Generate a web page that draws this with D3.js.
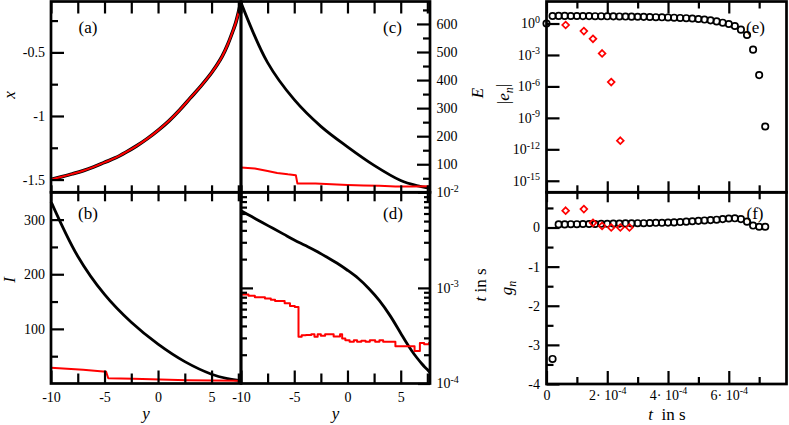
<!DOCTYPE html>
<meta charset="utf-8">
<style>
  body { margin: 0; background: #fff; }
  svg, svg text { font-family: "Liberation Serif", "Times New Roman", Times, "DejaVu Serif", serif; }
</style>
<body>
<script src="https://d3js.org/d3.v7.min.js"></script>
<div id="chart"></div>
<script>
// ---- data ----
// panel (a): trajectory x(y), black and red lie on top of each other
var yGridA = [-10,-9,-8,-7,-6,-5,-4,-3,-2,-1,0,1,2,3,4,5,5.5,6,6.5,7,7.25,7.5,7.75];
var xTrajBlack = [-1.50,-1.478,-1.455,-1.43,-1.40,-1.365,-1.33,-1.285,-1.235,-1.178,-1.113,-1.04,-0.955,-0.86,-0.765,-0.66,-0.6,-0.53,-0.44,-0.33,-0.27,-0.19,-0.1];
var xTrajRed   = [-1.50,-1.478,-1.455,-1.43,-1.40,-1.365,-1.33,-1.285,-1.235,-1.178,-1.113,-1.04,-0.955,-0.86,-0.765,-0.66,-0.6,-0.53,-0.44,-0.33,-0.27,-0.19,-0.1];
// panels (b),(c): coarse samples of the smooth black curves
var yGridBC = [-10,-7.5,-5,-2.5,0,2.5,5,6.5,7.75];
var actionBlack = [333,233,163,112,72,40,17,9,5];
var energyBlack = [676,462,330,235,162,96,42,24,15];
// panel (d): black curve
var yGridD = [-10,-9,-8,-7,-6,-5,-4,-3,-2,-1,0,1,2,3,4,5,5.5,6,6.5,7,7.25,7.5,7.75];
var timeBlack = [6.42e-3,5.57e-3,4.83e-3,4.2e-3,3.65e-3,3.17e-3,2.79e-3,2.45e-3,2.12e-3,1.82e-3,1.53e-3,1.26e-3,9.86e-4,7.35e-4,5.13e-4,3.36e-4,2.72e-4,2.23e-4,1.87e-4,1.6e-4,1.49e-4,1.4e-4,1.3e-4];

// red curves (own y samples)
var actionRedY = [-10,-8.5,-7,-5.4,-4.85,-4.65,-2.3,0.2,2.7,5.2,7.75];
var actionRed  = [28.7,26.9,25,22.5,21.4,9.7,8.6,7.3,6,5.5,4.9];
var energyRedY = [-10,-8.7,-7.5,-6.6,-5.6,-4.85,-4.7,-3,-1.5,0,1.5,3,4.5,6,7.75];
var energyRed  = [88,85,76,69,64,61,31,31,29,26,24,23,21,21,22];
var timeRedY = [-10,-9.3,-8.7,-7.75,-7.2,-6.8,-5.9,-5.4,-4.95,-4.6,-4.3,-3.9,-3.4,-3.1,-2.8,-2.5,-2.1,-1.7,-1.3,-0.9,-0.7,-0.5,-0.2,0.2,0.6,0.9,1.3,1.7,2.1,2.6,3.0,3.35,4.5,6.3,6.7,6.8,7.2,7.65,7.75];
var timeRed  = [8.55e-4,8.3e-4,7.96e-4,7.77e-4,7.5e-4,7.28e-4,6.89e-4,6.45e-4,6.3e-4,3.08e-4,3.2e-4,3.22e-4,3.28e-4,3.08e-4,3.28e-4,3.15e-4,3.28e-4,3.28e-4,3.1e-4,3.1e-4,3.28e-4,2.96e-4,2.84e-4,2.73e-4,2.84e-4,2.73e-4,2.8e-4,2.73e-4,2.84e-4,2.73e-4,2.84e-4,2.73e-4,2.46e-4,2.19e-4,2.19e-4,2.66e-4,2.58e-4,2.66e-4,2.19e-4];

// panels (e),(f)
var stepT = [2e-5,4e-5,6e-5,8e-5,1e-4,1.2e-4,1.4e-4,1.6e-4,1.8e-4,2e-4,2.2e-4,2.4e-4,2.6e-4,2.8e-4,3e-4,3.2e-4,3.4e-4,3.6e-4,3.8e-4,4e-4,4.2e-4,4.4e-4,4.6e-4,4.8e-4,5e-4,5.2e-4,5.4e-4,5.6e-4,5.8e-4,6e-4,6.2e-4,6.4e-4,6.6e-4,6.8e-4,7e-4,7.2e-4];
var errBlack = [5.2,5.3,5.3,5.2,5.2,5.1,5.1,5.0,5.0,4.9,4.8,4.7,4.6,4.5,4.4,4.3,4.2,4.0,3.9,3.8,3.6,3.4,3.2,3.0,2.7,2.4,2.0,1.6,1.2,0.9,0.58,0.26,0.08,3.2e-3,1.2e-5,1.5e-10];
var gBlack = [-3.36,0.08,0.08,0.085,0.085,0.09,0.09,0.09,0.095,0.095,0.1,0.1,0.105,0.105,0.11,0.11,0.115,0.12,0.12,0.125,0.13,0.14,0.15,0.16,0.17,0.18,0.19,0.2,0.215,0.23,0.235,0.215,0.15,0.05,0.02,0.02];
var startT = [0], startErr = [1];
var stepTRed = [6.3e-5,1.23e-4,1.53e-4,1.83e-4,2.13e-4,2.43e-4,2.73e-4];
var errRed = [0.72,0.19,0.035,1.4e-3,2.6e-6,6.6e-12];
var gRed = [0.43,0.47,0.12,0.04,0.0,0.0,0.0];

// tick values / labels
var yTickMajor = [-10,-5,0,5], yTickMinor = [-7.5,-2.5,2.5,7.5];
var xTickMajor = [-0.5,-1,-1.5], xTickMinor = [-0.25,-0.75,-1.25];
var ITickMajor = [100,200,300], ITickMinor = [50,150,250];
var ETickMajor = [100,200,300,400,500,600], ETickMinor = [50,150,250,350,450,550,650];
var tLogMajor = [1e-2,1e-3,1e-4];
var tLogMinor = [2e-4,3e-4,4e-4,5e-4,6e-4,7e-4,8e-4,9e-4,2e-3,3e-3,4e-3,5e-3,6e-3,7e-3,8e-3,9e-3];
var errTickMajor = [1e0,1e-3,1e-6,1e-9,1e-12,1e-15];
var gTickMajor = [0,-1,-2,-3,-4], gTickMinor = [0.5,-0.5,-1.5,-2.5,-3.5];
var timeTickMajor = [0,2e-4,4e-4,6e-4], timeTickMinor = [1e-4,3e-4,5e-4,7e-4];

var serif = "Liberation Serif, Times New Roman, Times, DejaVu Serif, serif";

var svg = d3.select("#chart").append("svg")
    .attr("width", 789).attr("height", 425);

// scales
var yL = d3.scaleLinear().domain([-10,7.75]).range([51,241]);
var yR = d3.scaleLinear().domain([-10,7.75]).range([241,430]);
var sx = d3.scaleLinear().domain([-1.6,-0.1]).range([192.3,1.5]);
var sI = d3.scaleLinear().domain([0,350]).range([383.5,192.3]);
var sE = d3.scaleLinear().domain([0,680]).range([192.3,1.5]);
var st = d3.scaleLog().domain([1e-4,1e-2]).range([383.5,192.3]);
var tS = d3.scaleLinear().domain([0,7.9e-4]).range([546.5,786.5]);
var se = d3.scaleLog().domain([Math.pow(10,-16.1),Math.pow(10,2.1)]).range([192.3,1.5]);
var sg = d3.scaleLinear().domain([-4,0.9]).range([384,192.3]);

function curve(xs, vs, xScale, vScale, color, w, c) {
  var pts = xs.map(function(d,i){ return [d, vs[i]]; });
  svg.append("path")
    .datum(pts)
    .attr("fill","none").attr("stroke",color).attr("stroke-width",w)
    .attr("stroke-linejoin","round")
    .attr("d", d3.line().curve(c || d3.curveMonotoneX)
      .x(function(d){ return xScale(d[0]); })
      .y(function(d){ return vScale(d[1]); }));
}

// curves
curve(yGridA, xTrajBlack, yL, sx, "#000", 3.6);
curve(yGridA, xTrajRed, yL, sx, "#ff0000", 2);
curve(yGridBC, actionBlack, yL, sI, "#000", 2.8, d3.curveCatmullRom);
curve(actionRedY, actionRed, yL, sI, "#ff0000", 2, d3.curveLinear);
curve(yGridBC, energyBlack, yR, sE, "#000", 2.8, d3.curveCatmullRom);
curve(energyRedY, energyRed, yR, sE, "#ff0000", 2, d3.curveLinear);
curve(yGridD, timeBlack, yR, st, "#000", 2.8, d3.curveCatmullRom);
curve(timeRedY, timeRed, yR, st, "#ff0000", 2, d3.curveStepAfter);

// markers
function circles(ts, vs, vScale) {
  svg.append("g").selectAll("circle")
    .data(ts.map(function(d,i){ return [d, vs[i]]; }))
    .enter().append("circle")
      .attr("cx", function(d){ return tS(d[0]); })
      .attr("cy", function(d){ return vScale(d[1]); })
      .attr("r", 3.2)
      .attr("fill","none").attr("stroke","#000").attr("stroke-width",1.7);
}
function diamonds(ts, vs, vScale) {
  svg.append("g").selectAll("path")
    .data(vs.map(function(d,i){ return [ts[i], d]; }))
    .enter().append("path")
      .attr("transform", function(d){ return "translate(" + tS(d[0]) + "," + vScale(d[1]) + ")"; })
      .attr("d", "M0,-3.4L3.4,0L0,3.4L-3.4,0Z")
      .attr("fill","none").attr("stroke","#ff0000").attr("stroke-width",1.7);
}
circles(startT, startErr, se);
circles(stepT, errBlack, se);
diamonds(stepTRed, errRed, se);
circles(stepT, gBlack, sg);
diamonds(stepTRed, gRed, sg);

// axes with inward ticks
function axis(fn, scale, vals, len, tx, ty, fmt, pad) {
  var a = fn(scale).tickValues(vals).tickSize(-len).tickSizeOuter(0)
    .tickPadding(pad || 6).tickFormat(fmt || function(){ return ""; });
  var g = svg.append("g").attr("transform", "translate(" + tx + "," + ty + ")").call(a);
  g.select(".domain").remove();
  g.selectAll(".tick line").attr("stroke","#000").attr("stroke-width", 2.2);
  g.attr("font-family", serif).attr("font-size", 14);
  g.selectAll(".tick text").attr("fill","#000");
  return g;
}
function supLabels(g, base, exp) {
  g.selectAll(".tick text").text(null).each(function(d) {
    var t = d3.select(this);
    t.append("tspan").text(base(d));
    t.append("tspan").attr("dy","-0.55em").attr("font-size",10).text(exp(d));
  });
}
var fmtPlain = function(d){ return String(d); };
var log10Exp = function(d){ return String(Math.round(Math.log10(d))); };

// panel (a)
axis(d3.axisLeft, sx, xTickMajor, 13, 51, 0, fmtPlain, 6);
axis(d3.axisLeft, sx, xTickMinor, 7, 51, 0);
axis(d3.axisTop, yL, yTickMajor.concat(yTickMinor), 12, 0, 1.5);
axis(d3.axisBottom, yL, yTickMajor.concat(yTickMinor), 7, 0, 192.3);
// panel (b)
axis(d3.axisLeft, sI, ITickMajor, 13, 51, 0, fmtPlain, 6);
axis(d3.axisLeft, sI, ITickMinor, 7, 51, 0);
axis(d3.axisTop, yL, yTickMajor.concat(yTickMinor), 9, 0, 192.3);
axis(d3.axisBottom, yL, yTickMajor, 13, 0, 383.5, fmtPlain, 9);
axis(d3.axisBottom, yL, yTickMinor, 10, 0, 383.5);
// panel (c)
axis(d3.axisRight, sE, ETickMajor, 13, 430, 0, fmtPlain, 6.5);
axis(d3.axisRight, sE, ETickMinor, 7, 430, 0);
axis(d3.axisTop, yR, yTickMajor.concat(yTickMinor), 12, 0, 1.5);
axis(d3.axisBottom, yR, yTickMajor.concat(yTickMinor), 7, 0, 192.3);
// panel (d)
axis(d3.axisTop, yR, yTickMajor.concat(yTickMinor), 9, 0, 192.3);
axis(d3.axisBottom, yR, yTickMajor, 13, 0, 383.5, fmtPlain, 9);
axis(d3.axisBottom, yR, yTickMinor, 10, 0, 383.5);
axis(d3.axisLeft, st, [1e-3], 12, 241, 0);
axis(d3.axisLeft, st, tLogMinor, 6, 241, 0);
var tl = axis(d3.axisRight, st, tLogMajor, 12, 430, 0, fmtPlain, 6.5);
supLabels(tl, function(){ return "10"; }, log10Exp);
axis(d3.axisRight, st, tLogMinor, 6, 430, 0);

// panel (e)
var el = axis(d3.axisLeft, se, errTickMajor, 13, 546.5, 0, fmtPlain, 6.5);
supLabels(el, function(){ return "10"; }, log10Exp);
axis(d3.axisTop, tS, timeTickMajor, 12, 0, 1.5);
axis(d3.axisTop, tS, timeTickMinor, 7, 0, 1.5);
axis(d3.axisBottom, tS, timeTickMajor, 11, 0, 192.3);
axis(d3.axisBottom, tS, timeTickMinor, 7, 0, 192.3);
// panel (f)
axis(d3.axisLeft, sg, gTickMajor, 13, 546.5, 0, fmtPlain, 6.5);
axis(d3.axisLeft, sg, gTickMinor, 7, 546.5, 0);
axis(d3.axisTop, tS, timeTickMajor, 10, 0, 192.3);
axis(d3.axisTop, tS, timeTickMinor, 7, 0, 192.3);
var fl = axis(d3.axisBottom, tS, timeTickMajor, 13, 0, 384, fmtPlain, 6);
fl.selectAll(".tick text").text(null).each(function(d) {
  var t = d3.select(this);
  if (d === 0) { t.text("0"); return; }
  var m = Math.round(d / 1e-4);
  t.append("tspan").text(m + "\u00b7 10");
  t.append("tspan").attr("dy","-0.55em").attr("font-size",10).text("-4");
});
axis(d3.axisBottom, tS, timeTickMinor, 7, 0, 384);

// frames
function frame(x0, y0, x1, y1) {
  svg.append("rect").attr("x",x0).attr("y",y0).attr("width",x1-x0).attr("height",y1-y0)
    .attr("fill","none").attr("stroke","#000").attr("stroke-width",2.7);
}
frame(51, 1.5, 241, 192.3);
frame(51, 192.3, 241, 383.5);
frame(241, 1.5, 430, 192.3);
frame(241, 192.3, 430, 383.5);
frame(546.5, 1.5, 786.5, 192.3);
frame(546.5, 192.3, 786.5, 384);

// panel letters
[["(a)",88,33],["(b)",88,219],["(c)",392.5,33],["(d)",393,219],["(e)",755.5,33],["(f)",755,219]]
  .forEach(function(p){
    svg.append("text").attr("x",p[1]).attr("y",p[2]).attr("text-anchor","middle")
      .attr("font-family", serif).attr("font-size",17).text(p[0]);
  });

// axis titles
function rotLabel(x, y, parts) {
  var t = svg.append("text").attr("transform","translate(" + x + "," + y + ") rotate(-90)")
    .attr("text-anchor","middle").attr("font-family", serif).attr("font-size",17);
  parts.forEach(function(p){
    var s = t.append("tspan").text(p.s);
    if (p.i) s.attr("font-style","italic");
    if (p.dy) s.attr("dy", p.dy);
    if (p.fs) s.attr("font-size", p.fs);
  });
  return t;
}
rotLabel(15, 95, [{s:"x", i:1}]);
rotLabel(15, 280, [{s:"I", i:1}]);
rotLabel(483, 93, [{s:"E", i:1}]);
rotLabel(486, 285, [{s:"t", i:1},{s:" in s"}]);
rotLabel(509, 94, [{s:"|"},{s:"e", i:1},{s:"n", i:1, dy:"0.3em", fs:12},{s:"|", dy:"-0.3em"}]);
rotLabel(512, 288, [{s:"g", i:1},{s:"n", i:1, dy:"0.3em", fs:12}]);

svg.append("text").attr("x",146).attr("y",419).attr("text-anchor","middle")
  .attr("font-family", serif).attr("font-size",17).attr("font-style","italic").text("y");
svg.append("text").attr("x",335.5).attr("y",419).attr("text-anchor","middle")
  .attr("font-family", serif).attr("font-size",17).attr("font-style","italic").text("y");
var tt = svg.append("text").attr("x",667).attr("y",420).attr("text-anchor","middle")
  .attr("font-family", serif).attr("font-size",17);
tt.append("tspan").attr("font-style","italic").text("t");
tt.append("tspan").text("\u00a0 in s");
</script>
</body>
